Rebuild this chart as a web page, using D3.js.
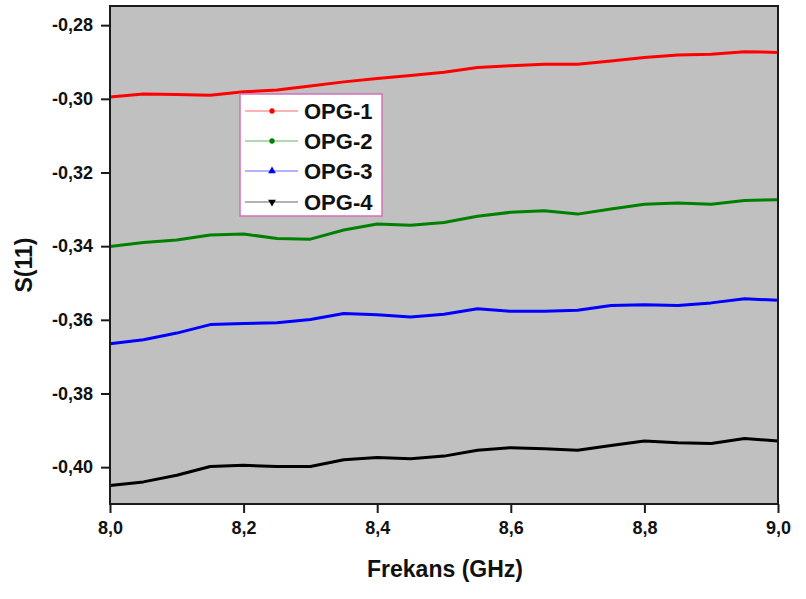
<!DOCTYPE html>
<html>
<head>
<meta charset="utf-8">
<script src="https://cdn.jsdelivr.net/npm/d3@7"></script>
<style>
  body { margin: 0; background: #fff; }
  svg text { font-family: "Liberation Sans", Arial, sans-serif; font-weight: bold; fill: #111; }
</style>
</head>
<body>
<div id="chart"></div>
<script>
// Frequency samples (GHz)
const freq = [8.00, 8.05, 8.10, 8.15, 8.20, 8.25, 8.30, 8.35, 8.40, 8.45, 8.50,
              8.55, 8.60, 8.65, 8.70, 8.75, 8.80, 8.85, 8.90, 8.95, 9.00];

// S(11) values
const opg1 = [-0.2995, -0.2987, -0.2988, -0.2990, -0.2981, -0.2976, -0.2965, -0.2954, -0.2945, -0.2937, -0.2928,
              -0.2915, -0.2910, -0.2906, -0.2906, -0.2897, -0.2888, -0.2881, -0.2879, -0.2872, -0.2874];
const opg2 = [-0.3401, -0.3390, -0.3383, -0.3370, -0.3367, -0.3379, -0.3381, -0.3356, -0.3340, -0.3343, -0.3336,
              -0.3319, -0.3308, -0.3304, -0.3313, -0.3299, -0.3286, -0.3283, -0.3286, -0.3276, -0.3274];
const opg3 = [-0.3665, -0.3654, -0.3636, -0.3613, -0.3610, -0.3608, -0.3599, -0.3583, -0.3586, -0.3592, -0.3585,
              -0.3570, -0.3577, -0.3577, -0.3574, -0.3561, -0.3559, -0.3561, -0.3554, -0.3543, -0.3547];
const opg4 = [-0.4050, -0.4040, -0.4022, -0.3998, -0.3995, -0.3998, -0.3998, -0.3980, -0.3974, -0.3977, -0.3970,
              -0.3954, -0.3947, -0.3950, -0.3954, -0.3941, -0.3929, -0.3934, -0.3936, -0.3922, -0.3929];

const seriesNames = ['OPG-1', 'OPG-2', 'OPG-3', 'OPG-4'];
const seriesColors = ['#ff0000', '#008000', '#0000ff', '#000000'];
const seriesSymbols = [d3.symbolCircle, d3.symbolCircle, d3.symbolTriangle, d3.symbolTriangle];

const xTicks = [8.0, 8.2, 8.4, 8.6, 8.8, 9.0];
const yTicks = [-0.40, -0.38, -0.36, -0.34, -0.32, -0.30, -0.28];

const width = 806, height = 599;
const plot = { left: 110, right: 778, top: 6, bottom: 504 };

const svg = d3.select('#chart')
  .append('svg')
  .attr('width', width)
  .attr('height', height);

const x = d3.scaleLinear().domain([8.0, 9.0]).range([plot.left, plot.right]);
const y = d3.scaleLinear().domain([-0.4100, -0.2748]).range([plot.bottom, plot.top]);

const fmt = d => d3.format('.2f')(d).replace('.', ',').replace('−', '-');

// plot background
svg.append('rect')
  .attr('x', plot.left).attr('y', plot.top)
  .attr('width', plot.right - plot.left)
  .attr('height', plot.bottom - plot.top)
  .attr('fill', '#c0c0c0');

// series lines
const data = [opg1, opg2, opg3, opg4];
const line = d3.line()
  .x((d, i) => x(freq[i]))
  .y(d => y(d));

data.forEach((vals, k) => {
  svg.append('path')
    .datum(vals)
    .attr('d', line)
    .attr('fill', 'none')
    .attr('stroke', seriesColors[k])
    .attr('stroke-width', 3)
    .attr('stroke-linejoin', 'round');
});

// frame
svg.append('rect')
  .attr('x', plot.left).attr('y', plot.top)
  .attr('width', plot.right - plot.left)
  .attr('height', plot.bottom - plot.top)
  .attr('fill', 'none')
  .attr('stroke', '#1a1a1a')
  .attr('stroke-width', 2);

// axes
const xAxis = svg.append('g')
  .attr('transform', `translate(0,${plot.bottom})`)
  .call(d3.axisBottom(x).tickValues(xTicks).tickSize(9).tickPadding(8)
    .tickFormat(d => d3.format('.1f')(d).replace('.', ',')));

const yAxis = svg.append('g')
  .attr('transform', `translate(${plot.left},0)`)
  .call(d3.axisLeft(y).tickValues(yTicks).tickSize(9).tickPadding(8).tickFormat(fmt));

[xAxis, yAxis].forEach(ax => {
  ax.select('.domain').remove();
  ax.selectAll('.tick line').attr('stroke', '#1a1a1a').attr('stroke-width', 2);
  ax.selectAll('.tick text')
    .attr('fill', '#111')
    .style('font-size', '18px')
    .style('font-family', '"Liberation Sans", Arial, sans-serif')
    .style('font-weight', 'bold');
});

// axis titles
svg.append('text')
  .attr('x', 445).attr('y', 577)
  .attr('text-anchor', 'middle')
  .style('font-size', '23px')
  .text('Frekans (GHz)');

svg.append('text')
  .attr('transform', 'translate(32,265) rotate(-90)')
  .attr('text-anchor', 'middle')
  .style('font-size', '23px')
  .text('S(11)');

// legend
const legend = svg.append('g');
legend.append('rect')
  .attr('x', 240).attr('y', 94)
  .attr('width', 142).attr('height', 122)
  .attr('fill', '#ffffff')
  .attr('stroke', '#d070b8')
  .attr('stroke-width', 1.5);

const rowY = [111, 141, 171, 202];
seriesNames.forEach((name, k) => {
  const g = legend.append('g').attr('transform', `translate(0,${rowY[k]})`);
  g.append('line')
    .attr('x1', 245).attr('x2', 298)
    .attr('y1', 0).attr('y2', 0)
    .attr('stroke', seriesColors[k])
    .attr('stroke-opacity', 0.6)
    .attr('stroke-width', 1.2);
  g.append('path')
    .attr('d', d3.symbol().type(seriesSymbols[k]).size(k < 2 ? 22 : 26))
    .attr('transform', `translate(272,0)${k === 3 ? ' rotate(180)' : ''}`)
    .attr('fill', seriesColors[k]);
  g.append('text')
    .attr('x', 304).attr('y', 8)
    .style('font-size', '22px')
    .text(name);
});
</script>
</body>
</html>
